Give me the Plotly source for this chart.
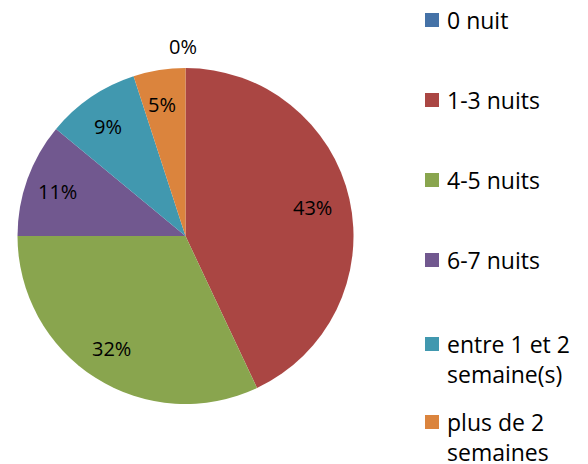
import math
import plotly.graph_objects as go

categories = ["0 nuit", "1-3 nuits", "4-5 nuits", "6-7 nuits",
              "entre 1 et 2 semaine(s)", "plus de 2 semaines"]
values = [0, 43, 32, 11, 9, 5]
colors = ["#4572A7", "#AA4643", "#89A54E", "#71588F", "#4198AF", "#DB843D"]
legend_lines = [["0 nuit"], ["1-3 nuits"], ["4-5 nuits"], ["6-7 nuits"],
                ["entre 1 et 2", "semaine(s)"], ["plus de 2", "semaines"]]

# page body has an 8px margin; figure sized so everything stays visible
OFF = 8
W, H = 588 - 2 * OFF, 464 - OFF
FONT = "'Open Sans', sans-serif"

# pie geometry (pixels in the figure)
left, right, top, bottom = 17 - OFF, 354 - OFF, 68 - OFF, 404 - OFF
cx, cy = (left + right) / 2, (top + bottom) / 2
R = min(right - left, bottom - top) / 2

fig = go.Figure()
fig.add_trace(go.Pie(
    labels=categories,
    values=values,
    sort=False,
    direction="clockwise",
    rotation=0,
    marker=dict(colors=colors, line=dict(width=0)),
    textinfo="none",
    domain=dict(x=[left / W, right / W], y=[1 - bottom / H, 1 - top / H]),
    automargin=False,
    showlegend=False,
    hoverinfo="label+percent",
))

# data labels placed at each slice's mid-angle (Excel-like "best fit")
total = sum(values)
cum = 0
for v in values:
    mid = (cum + v / 2) / total * 2 * math.pi
    cum += v
    f = 1.125 if v == 0 else 0.79
    px = cx + f * R * math.sin(mid) - 3
    py = cy - f * R * math.cos(mid)
    fig.add_annotation(xref="paper", yref="paper", x=px / W, y=1 - py / H,
                       xanchor="center", yanchor="middle", showarrow=False,
                       text=f"{round(100 * v / total)}%",
                       font=dict(family=FONT, size=20, color="#000000"))

# custom legend (irregular spacing like the original)
legend_y = [20, 100, 180, 260, 344, 422]
sq = 14
for cat_lines, col, yc in zip(legend_lines, colors, legend_y):
    yc -= OFF
    x0 = 425 - OFF
    fig.add_shape(type="rect", xref="paper", yref="paper",
                  x0=x0 / W, x1=(x0 + sq) / W,
                  y0=1 - (yc + sq / 2) / H, y1=1 - (yc - sq / 2) / H,
                  fillcolor=col, line=dict(width=0))
    for i, line in enumerate(cat_lines):
        fig.add_annotation(xref="paper", yref="paper",
                           x=(445 - OFF) / W, y=1 - (yc + i * 30) / H,
                           xanchor="left", yanchor="middle",
                           text=line, showarrow=False,
                           font=dict(family=FONT, size=23, color="#000000"))

fig.update_layout(
    width=W, height=H,
    margin=dict(l=0, r=0, t=0, b=0),
    paper_bgcolor="white",
    plot_bgcolor="white",
)

fig.write_html("out.html")
